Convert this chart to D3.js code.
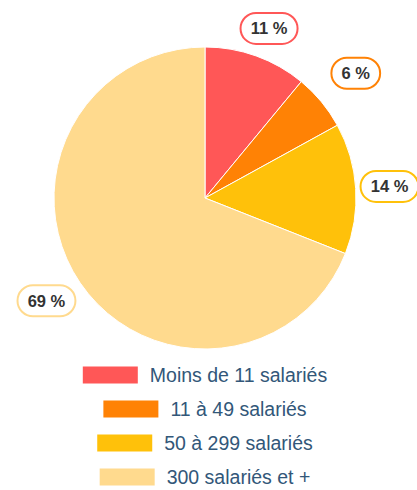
<!DOCTYPE html>
<html><head><meta charset="utf-8">
<script src="https://cdn.jsdelivr.net/npm/d3@7"></script>
<style>
html,body{margin:0;padding:0;background:#fff;}
svg{display:block;font-family:"Liberation Sans",Arial,sans-serif;}
</style></head>
<body><svg id="c" width="417" height="490"></svg>
<script>
const categories = ["Moins de 11 salariés", "11 à 49 salariés", "50 à 299 salariés", "300 salariés et +"];
const values = [11, 6, 14, 69];
const labels = ["11 %", "6 %", "14 %", "69 %"];
const colors = ["#FF5757", "#FF8205", "#FFC10A", "#FFDA8E"];

const svg = d3.select("#c");
const cx = 205, cy = 198, R = 151;
const g = svg.append("g").attr("transform", `translate(${cx},${cy})`);
const pie = d3.pie().sort(null).value(d => d)(values);
const arc = d3.arc().innerRadius(0).outerRadius(R);
g.selectAll("path").data(pie).join("path")
  .attr("d", arc).attr("fill", (d, i) => colors[i])
  .attr("stroke", "#fff").attr("stroke-width", 1);

// data labels
const pad = [5, 16, 4, 8];
const nudgeY = [0, 0, 0, -5];
pie.forEach((d, i) => {
  const a = (d.startAngle + d.endAngle) / 2;
  const ux = Math.sin(a), uy = -Math.cos(a);
  const lg = g.append("g");
  const t = lg.append("text").text(labels[i])
    .attr("font-size", 16.5).attr("font-weight", "bold").attr("fill", "#333")
    .attr("text-anchor", "middle").attr("dy", "0.35em");
  const bb = t.node().getBBox();
  const w = bb.width + 20, h = 31;
  const sup = Math.abs(ux) * w / 2 + Math.abs(uy) * h / 2;
  const dist = R + pad[i] + sup;
  lg.attr("transform", `translate(${ux * dist + (i === 0 ? 3 : 0)},${uy * dist + nudgeY[i]})`);
  lg.insert("rect", "text").attr("x", -w / 2).attr("y", -h / 2)
    .attr("width", w).attr("height", h).attr("rx", 15.5).attr("ry", 15.5)
    .attr("fill", "#fff").attr("stroke", colors[i]).attr("stroke-width", 2);
});

// legend
const lx = 205, ly0 = 375, step = 34;
categories.forEach((c, i) => {
  const row = svg.append("g");
  const t = row.append("text").text(c).attr("font-size", 19.5).attr("fill", "#325779")
    .attr("dy", "0.35em");
  const tw = t.node().getComputedTextLength();
  const sw = 55, gap = 12;
  const total = sw + gap + tw;
  const x0 = lx - total / 2, y = ly0 + i * step;
  row.insert("rect", "text").attr("x", x0).attr("y", y - 8.5).attr("width", sw).attr("height", 17)
    .attr("fill", colors[i]);
  t.attr("x", x0 + sw + gap).attr("y", y);
});
</script></body></html>
